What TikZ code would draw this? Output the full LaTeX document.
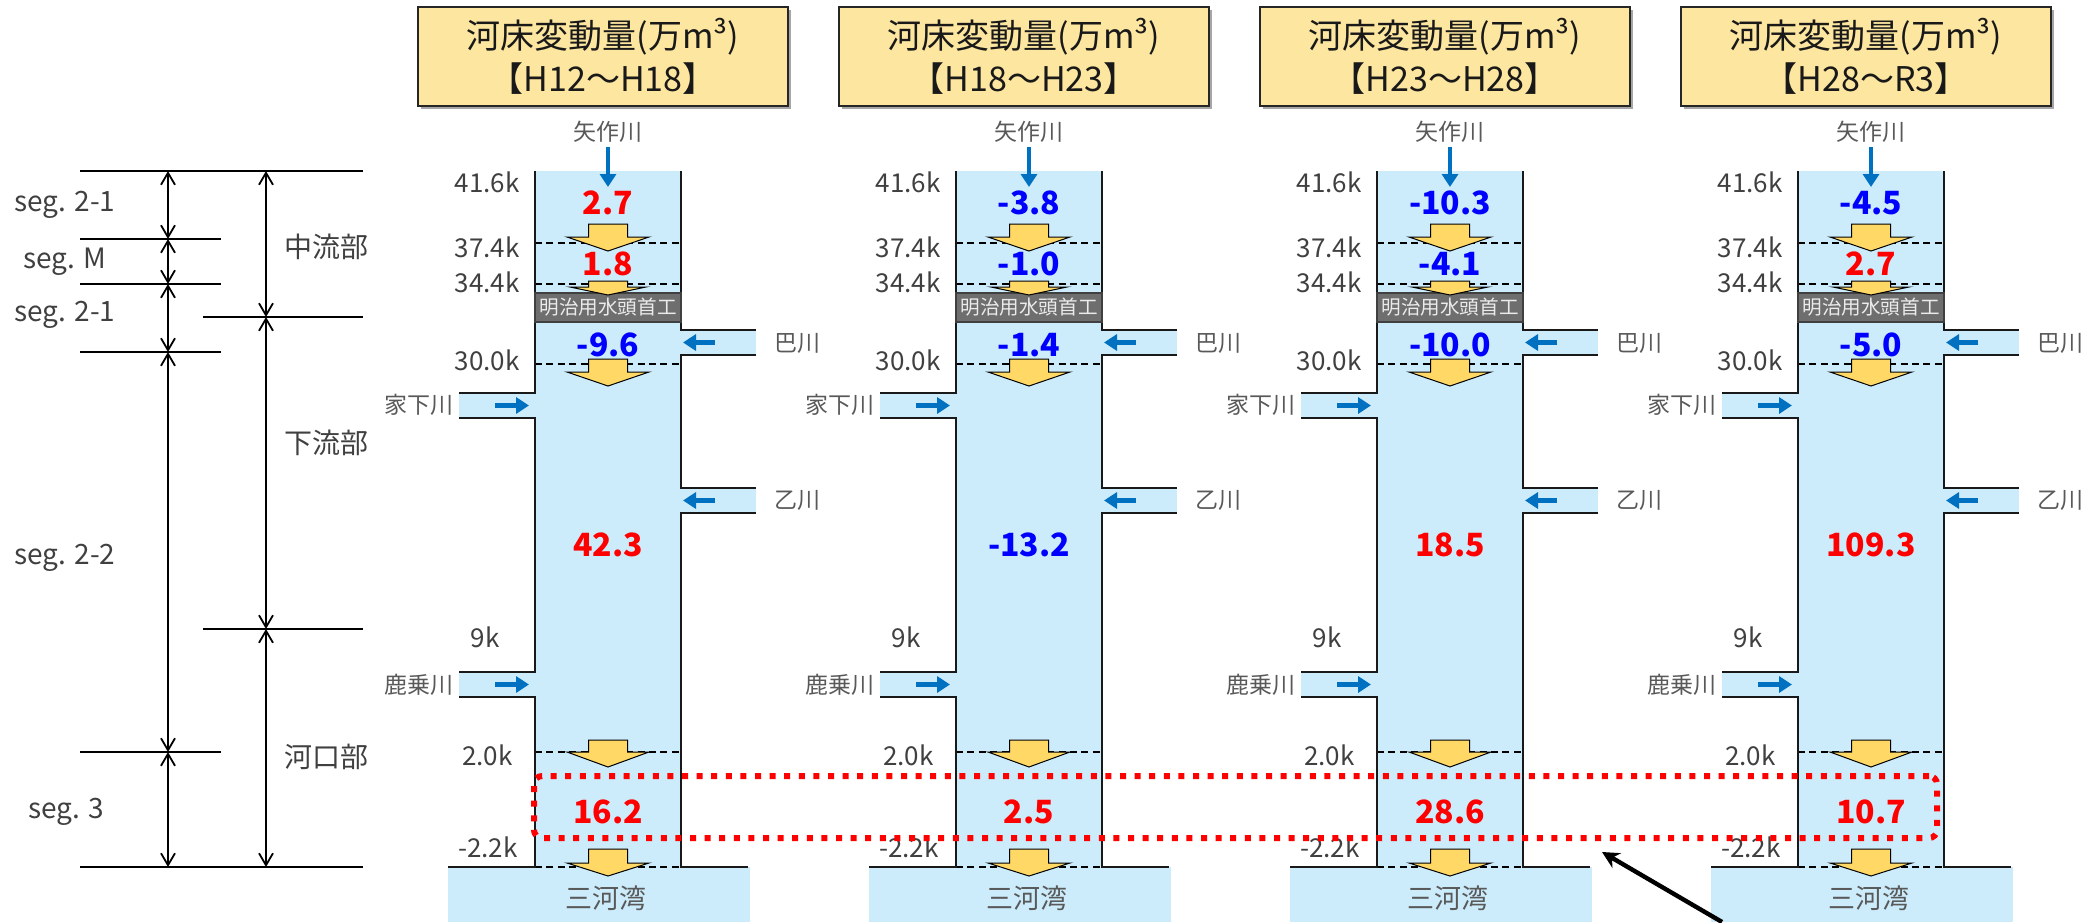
\documentclass[tikz,border=0pt]{standalone}
\usepackage{fontspec}
\setmainfont{Noto Sans CJK JP}
\usetikzlibrary{arrows.meta,shadows,calc}
\definecolor{water}{RGB}{204,236,252}
\definecolor{yel}{RGB}{255,216,102}
\definecolor{ttl}{RGB}{253,230,160}
\definecolor{hwgray}{RGB}{110,110,110}
\definecolor{barrow}{RGB}{0,112,192}
\definecolor{txtg}{RGB}{64,64,64}
\definecolor{txtl}{RGB}{89,89,89}
\definecolor{nred}{RGB}{255,0,0}
\definecolor{nblue}{RGB}{0,0,255}
\newcommand\yarrowshape[5]{%
  \filldraw[yarr] ({#1-19.5},#2) -- ({#1+19.5},#2) -- ({#1+19.5},#3) -- ({#1+#5},#3) -- (#1,#4) -- ({#1-#5},#3) -- ({#1-19.5},#3) -- cycle;}
\begin{document}
\begin{tikzpicture}[x=0.5pt,y=-0.5pt,
  wall/.style={line width=1.3pt, draw=black!90},
  kline/.style={draw=black, line width=1.1pt, dash pattern=on 3.5pt off 2.2pt},
  yarr/.style={fill=yel, draw=black, line width=0.5pt},
  barr/.style={draw=barrow, line width=2.2pt, -{Triangle[length=6.5pt,width=8pt]}},
  num/.style={font=\fontsize{16}{16}\selectfont\bfseries, inner sep=0},
  klab/.style={font=\fontsize{13}{13}\selectfont, text=txtg, anchor=east, inner sep=0},
  tlab/.style={font=\fontsize{11.5}{12}\selectfont, text=txtl, inner sep=0},
  title/.style={draw=black!85, fill=ttl, line width=0.8pt, minimum width=185pt, minimum height=49.5pt,
     align=center, font=\fontsize{17}{21.5}\selectfont, text=black!90,
     drop shadow={shadow xshift=1.5pt, shadow yshift=-1.5pt, opacity=0.35, fill=black}},
  seglab/.style={font=\fontsize{14}{14}\selectfont, text=txtg, inner sep=0},
  sline/.style={line width=1.2pt, draw=black},
  sarr/.style={line width=0.9pt, {Straight Barb[length=6pt,width=7pt]}-{Straight Barb[length=6pt,width=7pt]}},
  hlbox/.style={draw=nred, line width=3pt, dash pattern=on 3pt off 4.3pt, rounded corners=4pt,
     minimum width=701.5pt, minimum height=31pt, inner sep=0},
  ptr/.style={line width=2.2pt, -{Stealth[length=8.5pt,width=8.5pt]}}
]
\useasboundingbox (0,0) rectangle (2090,922);

% ---------- left scale ----------
\draw[sline] (80,171) -- (363,171);
\draw[sline] (80,239) -- (221,239);
\draw[sline] (80,284) -- (221,284);
\draw[sline] (203,317) -- (363,317);
\draw[sline] (80,352) -- (221,352);
\draw[sline] (203,629) -- (363,629);
\draw[sline] (80,752) -- (221,752);
\draw[sline] (80,867) -- (363,867);
\coordinate (sa0) at (168,171);
\coordinate (sa1) at (168,239);
\coordinate (sa2) at (168,284);
\coordinate (sa3) at (168,352);
\coordinate (sa4) at (168,752);
\coordinate (sa5) at (168,867);
\coordinate (sb0) at (266,171);
\coordinate (sb1) at (266,317);
\coordinate (sb2) at (266,629);
\coordinate (sb3) at (266,867);
\draw[sarr] (sa0) -- (sa1);
\draw[sarr] (sa1) -- (sa2);
\draw[sarr] (sa2) -- (sa3);
\draw[sarr] (sa3) -- (sa4);
\draw[sarr] (sa4) -- (sa5);
\draw[sarr] (sb0) -- (sb1);
\draw[sarr] (sb1) -- (sb2);
\draw[sarr] (sb2) -- (sb3);
\node[seglab] (g1) at (65,205) {seg. 2-1};
\node[seglab] (g2) at (65,262) {seg. M};
\node[seglab] (g3) at (65,315) {seg. 2-1};
\node[seglab] (g4) at (65,558) {seg. 2-2};
\node[seglab] (g5) at (66,812) {seg. 3};
\node[seglab] (r1) at (326,247) {中流部};
\node[seglab] (r2) at (326,443) {下流部};
\node[seglab] (r3) at (326,757) {河口部};

% ---------- columns ----------
\foreach \i/\va/\ka/\vb/\kb/\vc/\kc/\vd/\kd/\ve/\ke/\per in {
 1/2.7/nred/1.8/nred/-9.6/nblue/42.3/nred/16.2/nred/H12～H18,
 2/-3.8/nblue/-1.0/nblue/-1.4/nblue/-13.2/nblue/2.5/nred/H18～H23,
 3/-10.3/nblue/-4.1/nblue/-10.0/nblue/18.5/nred/28.6/nred/H23～H28,
 4/-4.5/nblue/2.7/nred/-5.0/nblue/109.3/nred/10.7/nred/H28～R3}
{
 \pgfmathsetmacro\L{535+421*(\i-1)}
 \pgfmathsetmacro\R{\L+146}
 \pgfmathsetmacro\C{\L+73}
 % water
 \fill[water] (\L,171) rectangle (\R,867);
 \fill[water] ({\L-76},393) rectangle (\L,418);
 \fill[water] ({\L-76},672) rectangle (\L,697);
 \fill[water] (\R,330) rectangle ({\R+75},355);
 \fill[water] (\R,488) rectangle ({\R+75},513);
 \fill[water] ({\L-87},867) rectangle ({\R+69},922);
 % dashed km lines
 \draw[kline] (\L,243) -- (\R,243);
 \draw[kline] (\L,284) -- (\R,284);
 \draw[kline] (\L,364) -- (\R,364);
 \draw[kline] (\L,752) -- (\R,752);
 \draw[kline] (\L,867) -- (\R,867);
 % walls
 \draw[wall] (\L,171) -- (\L,393) -- ({\L-76},393);
 \draw[wall] ({\L-76},418) -- (\L,418) -- (\L,672) -- ({\L-76},672);
 \draw[wall] ({\L-76},697) -- (\L,697) -- (\L,867) -- ({\L-87},867);
 \draw[wall] (\R,171) -- (\R,330) -- ({\R+75},330);
 \draw[wall] ({\R+75},355) -- (\R,355) -- (\R,488) -- ({\R+75},488);
 \draw[wall] ({\R+75},513) -- (\R,513) -- (\R,867) -- ({\R+67},867);
 % head works
 \filldraw[fill=hwgray, draw=black!75, line width=0.8pt] (\L,293) rectangle (\R,322);
 \node[font=\fontsize{9.8}{10}\selectfont, text=black!8, inner sep=0] (hw\i) at (\C,307.5) {明治用水頭首工};
 % yellow arrows
 \yarrowshape{\C}{224}{237}{251}{41}
 \yarrowshape{\C}{281}{287}{295}{38}
 \yarrowshape{\C}{359}{372}{386}{41}
 \yarrowshape{\C}{740}{752}{767}{41}
 \yarrowshape{\C}{849}{863}{876}{41}
 % numbers
 \node[num, text=\ka] (na\i) at (\C,203) {\va};
 \node[num, text=\kb] (nb\i) at (\C,264) {\vb};
 \node[num, text=\kc] (nc\i) at (\C,345) {\vc};
 \node[num, text=\kd] (nd\i) at (\C,545) {\vd};
 \node[num, text=\ke] (ne\i) at (\C,812) {\ve};
 % blue inflow arrows
 \draw[barr] (\C,147) -- (\C,187);
 \draw[barr] ({\L-40},405.5) -- ({\L-6},405.5);
 \draw[barr] ({\L-40},684.5) -- ({\L-6},684.5);
 \draw[barr] ({\R+34},342.5) -- ({\R+2},342.5);
 \draw[barr] ({\R+34},500.5) -- ({\R+2},500.5);
 % tributary labels
 \node[tlab] (ya\i) at (\C,132) {矢作川};
 \node[tlab, anchor=east] (ka\i) at ({\L-81},405) {家下川};
 \node[tlab, anchor=east] (sh\i) at ({\L-81},685) {鹿乗川};
 \node[tlab, anchor=west] (to\i) at ({\R+93},343) {巴川};
 \node[tlab, anchor=west] (ot\i) at ({\R+93},500) {乙川};
 \node[font=\fontsize{13.5}{14}\selectfont, text=txtl, inner sep=0] (mk\i) at ({\C-2},898) {三河湾};
 % km labels
 \node[klab] (k1\i) at ({\L-15},182) {41.6k};
 \node[klab] (k2\i) at ({\L-15},247) {37.4k};
 \node[klab] (k3\i) at ({\L-15},282) {34.4k};
 \node[klab] (k4\i) at ({\L-15},360) {30.0k};
 \node[klab] (k5\i) at ({\L-35},637) {9k};
 \node[klab] (k6\i) at ({\L-22},755) {2.0k};
 \node[klab] (k7\i) at ({\L-17},847) {-2.2k};
 % title
 \node[title] (t\i) at ({\L+68},56.5) {河床変動量(万m³)\\【\per】};
}

% ---------- highlight ----------
\node[hlbox] (hl) at (1235.5,807) {};
\coordinate (pst) at (1722,922);
\coordinate (ptip) at (1602,852);
\draw[ptr] (pst) -- (ptip);
\end{tikzpicture}
\end{document}
